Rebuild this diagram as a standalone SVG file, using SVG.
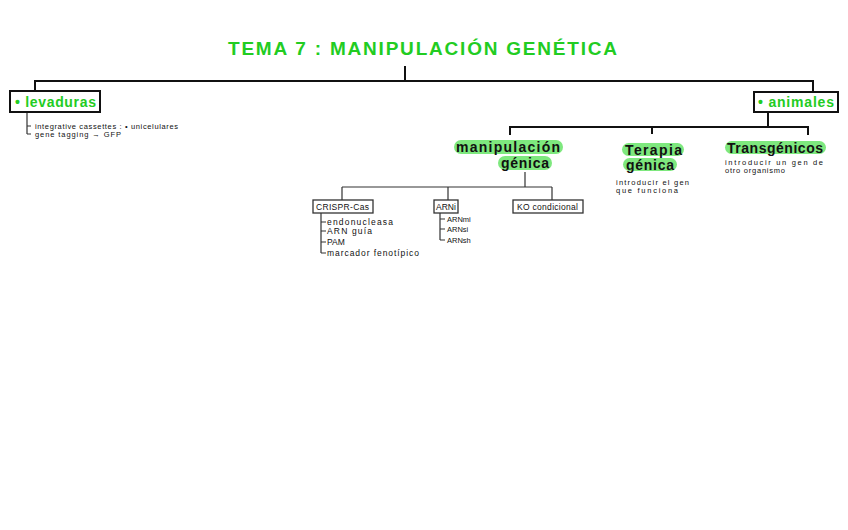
<svg xmlns="http://www.w3.org/2000/svg" width="848" height="530" viewBox="0 0 848 530">
<style>
text{font-family:"Liberation Sans","DejaVu Sans",sans-serif;fill:#111}
.title{font-size:19px;fill:#22cc22;font-weight:bold}
.gbox{font-size:14px;fill:#22cc22;font-weight:bold}
.head{font-size:14px;fill:#111;font-weight:bold}
.hl{fill:#7ee87e}
.small{font-size:7.5px}
.tiny{font-size:8.5px}
.box{fill:#fff;stroke:#111;stroke-width:2}
.sbox{fill:#fff;stroke:#333;stroke-width:1.3}
.ln{fill:none;stroke:#111;stroke-width:2}
.tln{fill:none;stroke:#333;stroke-width:1.2}
</style>
<rect width="848" height="530" fill="#fff"/>
<g id="title"><text class="title" x="228" y="55" textLength="389" lengthAdjust="spacing">TEMA 7 : MANIPULACIÓN  GENÉTICA</text></g>
<g id="connectors">
<path class="ln" d="M405 66V81M35 81H813M35 80V92M813 80V93"/>
<path class="ln" d="M768 112V127M510 127H808M510 126V135M652 126V134M808 126V135"/>
<path class="tln" d="M27 113V134M27 126H31M27 134H31"/>
<path class="tln" d="M525 172V187M342 187H552M342 187V200M448 187V200M552 187V200"/>
<path class="tln" d="M321 213V253M321 222H326M321 231H326M321 242H326M321 253H326"/>
<path class="tln" d="M440 213V240M440 219H445M440 229H445M440 240H445"/>
</g>
<g id="levaduras">
<rect class="box" x="10" y="91" width="90" height="21"/>
<text class="gbox" x="15" y="106.5" textLength="81" lengthAdjust="spacing">• levaduras</text>
<text class="small" x="35" y="128.5" textLength="143" lengthAdjust="spacing">integrative cassettes : • unicelulares</text>
<text class="small" x="35" y="136.5" textLength="86" lengthAdjust="spacing">gene tagging → GFP</text>
</g>
<g id="animales">
<rect class="box" x="754" y="92" width="84" height="20"/>
<text class="gbox" x="758" y="107" textLength="76" lengthAdjust="spacing">• animales</text>
</g>
<g id="manipulacion">
<rect class="hl" x="454" y="140" width="109" height="14" rx="7"/>
<rect class="hl" x="498" y="156" width="54" height="14" rx="7"/>
<text class="head" x="456" y="151.5" textLength="104" lengthAdjust="spacing">manipulación</text>
<text class="head" x="501" y="167.5" textLength="48" lengthAdjust="spacing">génica</text>
</g>
<g id="terapia">
<rect class="hl" x="622" y="143" width="62" height="13" rx="6.5"/>
<rect class="hl" x="623" y="158" width="54" height="13" rx="6.5"/>
<text class="head" x="625" y="154.5" textLength="57" lengthAdjust="spacing">Terapia</text>
<text class="head" x="626" y="169.5" textLength="48" lengthAdjust="spacing">génica</text>
<text class="small" x="616" y="184.5" textLength="73" lengthAdjust="spacing">introducir el gen</text>
<text class="small" x="616" y="193" textLength="62" lengthAdjust="spacing">que funciona</text>
</g>
<g id="transgenicos">
<rect class="hl" x="725" y="141" width="101" height="13" rx="6.5"/>
<text class="head" x="727" y="152.5" textLength="96" lengthAdjust="spacing">Transgénicos</text>
<text class="small" x="725" y="164.5" textLength="98" lengthAdjust="spacing">introducir un gen de</text>
<text class="small" x="725" y="173" textLength="60" lengthAdjust="spacing">otro organismo</text>
</g>
<g id="crispr">
<rect class="sbox" x="313" y="200" width="60" height="13"/>
<text class="tiny" x="316" y="209.8" textLength="53" lengthAdjust="spacing">CRISPR-Cas</text>
<text class="tiny" x="327" y="225" textLength="66" lengthAdjust="spacing">endonucleasa</text>
<text class="tiny" x="327" y="234" textLength="45" lengthAdjust="spacing">ARN guía</text>
<text class="tiny" x="327" y="245">PAM</text>
<text class="tiny" x="327" y="256" textLength="92" lengthAdjust="spacing">marcador  fenotípico</text>
</g>
<g id="arni">
<rect class="sbox" x="434" y="200" width="24" height="13"/>
<text class="tiny" x="436" y="209.8">ARNi</text>
<text class="small" x="447" y="222">ARNmi</text>
<text class="small" x="447" y="232">ARNsi</text>
<text class="small" x="447" y="243">ARNsh</text>
</g>
<g id="ko">
<rect class="sbox" x="513" y="200" width="70" height="13"/>
<text class="tiny" x="517" y="209.8" textLength="61" lengthAdjust="spacing">KO  condicional</text>
</g>
</svg>
